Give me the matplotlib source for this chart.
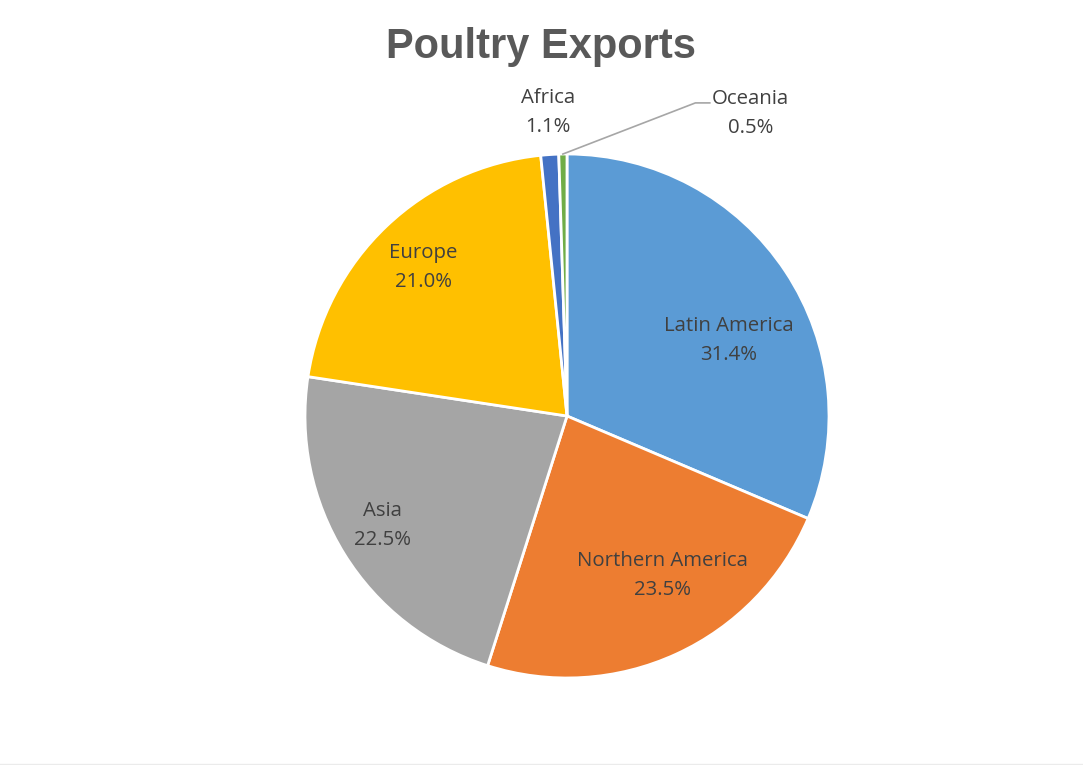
import matplotlib
matplotlib.use("Agg")
import matplotlib.pyplot as plt
from matplotlib.lines import Line2D
import numpy as np

# data
regions = ["Latin America", "Northern America", "Asia", "Europe", "Africa", "Oceania"]
shares = [31.4, 23.5, 22.5, 21.0, 1.1, 0.5]
colors = ["#5B9BD5", "#ED7D31", "#A5A5A5", "#FFC000", "#4472C4", "#70AD47"]

# label placement (radius fraction, angle in degrees) for each wedge
label_pos = [(0.68, 25), (0.71, -59), (0.82, -149.4), (0.79, 134), (1.16, 93.6), (1.35, 58.8)]

W, H = 1083, 765
fig = plt.figure(figsize=(W / 100, H / 100), dpi=100)
fig.patch.set_facecolor("white")

cx, cy, r = 567, 765 - 416, 262
ax = fig.add_axes([(cx - r) / W, (cy - r) / H, 2 * r / W, 2 * r / H])

wedges, _ = ax.pie(shares, colors=colors, startangle=90, counterclock=False,
                   radius=1, wedgeprops=dict(edgecolor="white", linewidth=2))
ax.set_xlim(-1, 1)
ax.set_ylim(-1, 1)
ax.set_aspect("equal")
ax.axis("off")
for w in wedges:
    w.set_clip_on(False)

for name, val, (d, a) in zip(regions, shares, label_pos):
    x = d * np.cos(np.radians(a))
    y = d * np.sin(np.radians(a))
    ax.text(x, y, "%s\n%.1f%%" % (name, val), ha="center", va="center",
            fontsize=14.7, color="#404040", family="Open Sans",
            linespacing=1.6, clip_on=False)

# leader line for Oceania
w = wedges[-1]
mid = np.radians((w.theta1 + w.theta2) / 2)
x0, y0 = np.cos(mid), np.sin(mid)
ax.plot([x0, 0.49, 0.545], [y0, 1.195, 1.195], color="#A6A6A6", lw=1.2, clip_on=False)

fig.text(0.5, 1 - 47 / H, "Poultry Exports", ha="center", va="center",
         fontsize=30, fontweight="bold", color="#595959", family="Liberation Sans")

fig.add_artist(Line2D([0, 1], [1.5 / H, 1.5 / H], color="#EBEBEB", lw=1))

fig.savefig("out.png", dpi=100, facecolor="white")
